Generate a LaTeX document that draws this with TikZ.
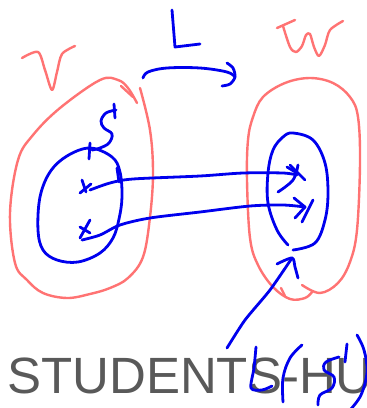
\documentclass[tikz,border=0pt]{standalone}
\usepackage{fontspec}
\setmainfont{Liberation Sans}
\definecolor{penpink}{HTML}{FF7373}
\definecolor{penblue}{HTML}{0000EE}
\definecolor{wmgray}{HTML}{595959}
\tikzset{
  pinkpen/.style={draw=penpink, line width=2.4pt, line cap=round, line join=round},
  bluepen/.style={draw=penblue, line width=2.8pt, line cap=round, line join=round},
}
\begin{document}
\begin{tikzpicture}[x=1pt,y=-1pt]
\useasboundingbox (0,0) rectangle (367,408);
\clip (0,0) rectangle (367,408);
\fill[white] (0,0) rectangle (367,408);

% watermark text
\node[anchor=base west, inner sep=0pt, text=wmgray, font=\fontsize{51}{51}\selectfont] (wm) at (7,393) {STUDENTS-HU};

% ---- pink: letters V and W
\draw[pinkpen] plot[smooth, tension=0.5] coordinates {(22,58) (38,52) (45,70) (52,90) (57,72) (62,54) (75,46)};
\draw[pinkpen] (277,28) -- (295,20);
\draw[pinkpen] plot[smooth, tension=0.5] coordinates {(283,26) (290,47) (296,52) (302,46) (306,35) (310,34) (314,47) (319,56) (325,45) (330,30) (343,21)};

% ---- pink blob V
\draw[pinkpen] plot[smooth, tension=0.6] coordinates {(140,88) (150,130) (153,173) (150,217) (143,257) (128,278) (110,288) (90,294) (67,298) (43,293) (27,280) (15,263) (10,213) (18,160) (33,135) (60,108) (100,80) (118,80) (128,88) (137,103)};
\draw[pinkpen] (121,86) -- (133,97);

% ---- pink blob W
\draw[pinkpen] plot[smooth, tension=0.6] coordinates {(302,285) (320,293) (338,283) (350,262) (357,230) (360,163) (358,117) (350,97) (333,83) (310,78) (285,83) (263,97) (253,117) (248,140) (247,180) (250,238) (258,265) (273,287) (290,299) (305,298) (312,292)};
\draw[pinkpen] (281,288) -- (285,296);

% ---- blue L and arrow
\draw[bluepen] (172,10) -- (175,47) -- (200,44);
\draw[bluepen] plot[smooth, tension=0.6] coordinates {(143,78) (148,72) (167,68) (200,68) (227,72) (235,77)};
\draw[bluepen] plot[smooth, tension=0.5] coordinates {(227,63) (233,68) (235,77) (230,84) (222,86)};

% ---- blue set S (circle) and label
\draw[bluepen] plot[smooth cycle, tension=0.6] coordinates {(90,148) (112,157) (120,172) (122,197) (119,219) (113,238) (100,253) (78,262) (57,260) (43,250) (38,230) (40,197) (50,172) (67,156)};
\draw[bluepen] (117,168) -- (119,182);
\draw[bluepen] (90,143) -- (89,159);
\draw[bluepen] plot[smooth, tension=0.6] coordinates {(116,110) (106,113) (101,121) (104,128) (112,134) (109,143) (100,148) (92,150)};
\draw[bluepen] (114,104) -- (115,118);

% ---- x marks
\draw[bluepen] (82,180) -- (86,192);
\draw[bluepen] (80,193) -- (91,184);
\draw[bluepen] (80,227) -- (90,233);
\draw[bluepen] (90,220) -- (80,238);

% ---- blue set L(S) (ellipse with a gap)
\draw[bluepen] plot[smooth, tension=0.6] coordinates {(293,250) (315,243) (325,220) (328,193) (325,163) (313,140) (293,133) (283,137) (273,150) (268,173) (268,203) (277,230) (288,245)};

% ---- mapping arrows
\draw[bluepen] plot[smooth, tension=0.5] coordinates {(90,190) (110,183) (133,179) (200,176) (243,173) (283,173) (297,175)};
\draw[bluepen] (287,167) -- (297,173);
\draw[bluepen] (290,165) -- (305,180);
\draw[bluepen] plot[smooth, tension=0.6] coordinates {(298,165) (293,180) (278,192)};

\draw[bluepen] plot[smooth, tension=0.5] coordinates {(82,240) (100,235) (120,225) (150,218) (200,212) (250,206) (283,205) (305,207)};
\draw[bluepen] (294,198) -- (305,207) -- (295,218);
\draw[bluepen] (313,200) -- (302,222);

% ---- arrow from L(S) label
\draw[bluepen] plot[smooth, tension=0.4] coordinates {(227,348) (245,320) (270,290) (292,258)};
\draw[bluepen] plot[smooth, tension=0.5] coordinates {(277,264) (292,258) (295,267) (298,278)};

% ---- handwritten L(S)
\draw[bluepen] plot[smooth, tension=0.5] coordinates {(256,347) (254,368) (251,388) (262,390) (272,386)};
\draw[bluepen] plot[smooth, tension=0.6] coordinates {(302,345) (290,358) (283,378) (283,402)};
\draw[bluepen] (347,344) -- (345,362);
\draw[bluepen] plot[smooth, tension=0.6] coordinates {(339,357) (326,362) (324,370) (334,377) (332,388) (320,395) (318,405)};
\draw[bluepen] plot[smooth, tension=0.6] coordinates {(357,335) (364,350) (367,372) (361,395) (350,410)};
\end{tikzpicture}
\end{document}
